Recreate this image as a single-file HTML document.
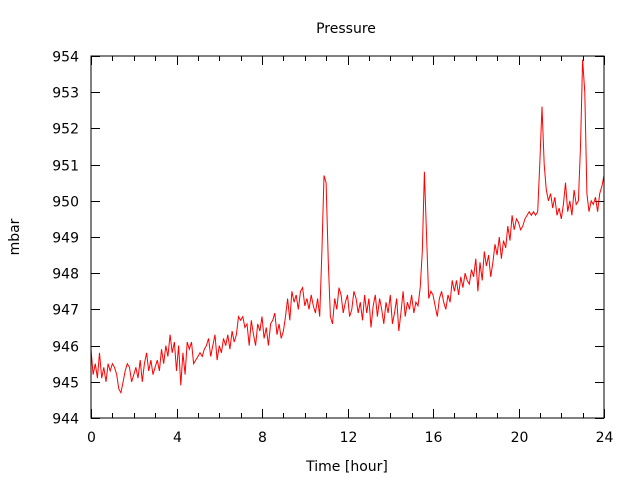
<!DOCTYPE html>
<html><head><meta charset="utf-8"><style>
body{margin:0;background:#fff}
svg{display:block;font-family:"DejaVu Sans","Liberation Sans",sans-serif;font-size:14px}
</style></head><body>
<svg id="chart" width="640" height="480">
<rect width="640" height="480" fill="#fff"/>
<text x="346" y="33" text-anchor="middle">Pressure</text>
<text x="347" y="471" text-anchor="middle">Time [hour]</text>
<text transform="translate(19,237) rotate(-90)" text-anchor="middle">mbar</text>
<g id="axes"></g>
<polyline id="line" fill="none" stroke="#f00" stroke-width="1"/>
<rect x="91" y="56" width="513" height="362" fill="none" stroke="#000" stroke-width="1"/>
</svg>
<script>
const xStart = 0, xStep = 0.1;
const pressure = [945.9,945.2,945.5,945.1,945.8,945.1,945.4,945.0,945.5,945.3,945.5,
945.4,945.2,944.8,944.7,945.0,945.3,945.5,945.4,945.0,945.2,
945.4,945.1,945.6,945.0,945.5,945.8,945.3,945.6,945.2,945.4,
945.6,945.3,945.9,945.5,946.0,945.7,946.3,945.8,946.1,945.3,
946.0,944.9,945.8,945.2,946.1,945.9,946.1,945.5,945.6,945.7,
945.8,945.7,945.9,946.0,946.2,945.7,946.0,946.3,945.6,946.0,
945.8,946.2,946.0,946.3,945.9,946.4,946.1,946.3,946.8,946.7,
946.8,946.5,946.6,946.0,946.7,946.3,946.0,946.6,946.4,946.8,
946.2,946.5,946.0,946.6,946.7,946.9,946.3,946.6,946.2,946.4,
946.8,947.3,946.7,947.5,947.2,947.4,947.0,947.5,947.6,947.1,
947.3,947.0,947.4,947.1,946.9,947.3,946.8,948.6,950.7,950.5,
948.3,946.8,946.6,947.3,947.0,947.6,947.4,946.9,947.2,947.4,
946.8,947.0,947.5,947.3,946.9,947.2,946.7,947.4,946.9,947.3,
946.5,947.1,947.4,946.8,947.3,947.0,946.6,947.2,946.9,947.4,
946.6,946.9,947.3,946.4,946.9,947.5,946.8,947.2,947.0,947.4,
946.9,947.2,947.1,947.6,948.6,950.8,949.0,947.3,947.5,947.4,
947.1,946.8,947.3,947.5,947.2,947.0,947.4,947.2,947.8,947.5,
947.8,947.4,947.9,947.6,948.0,947.8,947.7,948.1,947.9,948.4,
947.5,948.3,947.8,948.6,948.2,948.5,947.9,948.3,948.8,948.5,
949.0,948.4,948.9,948.7,949.3,948.9,949.6,949.2,949.5,949.4,
949.2,949.3,949.5,949.6,949.7,949.6,949.7,949.6,949.7,951.1,
952.6,951.0,950.3,950.0,950.2,949.8,950.1,949.6,949.8,949.5,
949.9,950.5,949.7,950.0,949.6,950.3,949.9,950.0,951.5,953.9,
953.0,950.2,949.7,950.0,949.9,950.1,949.7,950.2,950.4,950.7];
const xTicks = [0,4,8,12,16,20,24];
const xMinorTicks = [1,2,3,5,6,7,9,10,11,13,14,15,17,18,19,21,22,23];
const yTicks = [944,945,946,947,948,949,950,951,952,953,954];

const L=91,R=604,T=56,B=418;
const xs = v => L + (v-0)/(24-0)*(R-L);
const ys = v => B - (v-944)/(954-944)*(B-T);
const NS="http://www.w3.org/2000/svg";
const axes=document.getElementById('axes');
function ln(x1,y1,x2,y2,name){
  const l=document.createElementNS(NS,'line');
  l.setAttribute('x1',x1);l.setAttribute('y1',y1);l.setAttribute('x2',x2);l.setAttribute('y2',y2);
  l.setAttribute('stroke','#000');
  
  
  axes.appendChild(l);
}
function tx(x,y,s,anchor,name){
  const t=document.createElementNS(NS,'text');
  t.setAttribute('x',x);t.setAttribute('y',y);t.setAttribute('text-anchor',anchor);
  t.textContent=s;
  
  
  axes.appendChild(t);
}
xTicks.forEach(v=>{const x=Math.round(xs(v))+0.5;ln(x,B,x,B-9,'x-tick');ln(x,T,x,T+9,'x-tick-mirror');tx(x,442,String(v),'middle','x-tick-label');});
xMinorTicks.forEach(v=>{const x=Math.round(xs(v))+0.5;ln(x,B,x,B-5,'x-minor-tick');ln(x,T,x,T+5,'x-minor-tick-mirror');});
yTicks.forEach(v=>{const y=Math.round(ys(v))+0.5;ln(L,y,L+9,y,'y-tick');ln(R,y,R-9,y,'y-tick-mirror');tx(79,y+5,String(v),'end','y-tick-label');});
document.getElementById('line').setAttribute('points',pressure.map((v,i)=>xs(xStart+i*xStep).toFixed(1)+','+ys(v).toFixed(1)).join(' '));
</script>
</body></html>
